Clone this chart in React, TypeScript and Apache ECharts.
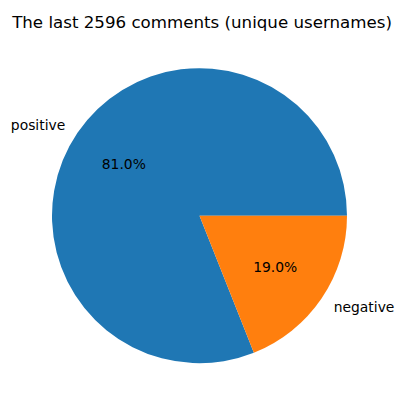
import React, { useEffect, useRef } from "react";
import * as echarts from "echarts";

const categories = ["positive", "negative"];
const counts = [2103, 493];
const colors = ["#1f77b4", "#ff7f0e"];
const titleText = "The last 2596 comments (unique usernames)";

const CX = 199.5;
const CY = 215.7;
const R = 147.5;
const FONT = "DejaVu Sans";

export default function App() {
  const ref = useRef<HTMLDivElement>(null);
  useEffect(() => {
    document.body.style.margin = "0";
    const chart = echarts.init(ref.current!, null, { renderer: "svg" });
    const data = categories.map((c, i) => ({
      name: c,
      value: counts[i],
      itemStyle: { color: colors[i] },
    }));
    chart.setOption({
      animation: false,
      backgroundColor: "#ffffff",
      title: {
        text: titleText,
        left: "center",
        top: 9,
        textStyle: {
          fontFamily: FONT,
          fontSize: 16.67,
          fontWeight: "normal",
          color: "#000000",
        },
      },
      series: [
        {
          type: "pie",
          center: [CX, CY],
          radius: [0, R],
          startAngle: 0,
          clockwise: false,
          silent: true,
          avoidLabelOverlap: false,
          data,
          label: {
            show: true,
            position: "outside",
            formatter: "{b}",
            fontFamily: FONT,
            fontSize: 13.89,
            color: "#000000",
            distanceToLabelLine: 0,
          },
          labelLine: { show: false, length: R * 0.1, length2: 0 },
          emphasis: { disabled: true },
        },
        {
          type: "pie",
          center: [CX, CY],
          radius: [0, R * 1.2],
          startAngle: 0,
          clockwise: false,
          silent: true,
          avoidLabelOverlap: false,
          percentPrecision: 3,
          z: 3,
          data: categories.map((c, i) => ({
            name: c,
            value: counts[i],
            itemStyle: { color: "rgba(0,0,0,0)" },
          })),
          label: {
            show: true,
            position: "inside",
            formatter: (p: any) => Number(p.percent).toFixed(1) + "%",
            fontFamily: FONT,
            fontSize: 13.89,
            color: "#000000",
          },
          labelLine: { show: false },
          emphasis: { disabled: true },
        },
      ],
    });
    return () => chart.dispose();
  }, []);
  return <div ref={ref} style={{ width: 404, height: 411 }} />;
}
